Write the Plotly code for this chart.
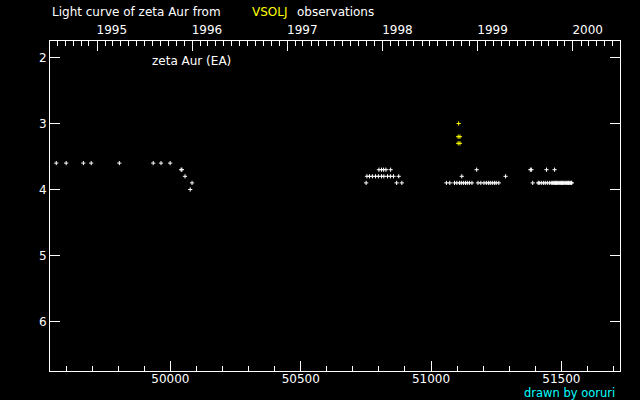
import datetime as dt
import plotly.graph_objects as go

# Reduced Julian Date (JD - 2400000) and visual magnitudes
jd_white = [
    49562, 49600, 49666, 49696, 49804, 49934, 49964, 49999,
    50041, 50044, 50056, 50083, 50076,
    50800, 50810, 50818, 50827, 50845,
    50754, 50764, 50775, 50787, 50798, 50810, 50819, 50833, 50844, 50856, 50876,
    50751, 50868, 50888,
    51059, 51072, 51090, 51099, 51109, 51116, 51124, 51132, 51139, 51147, 51157,
    51180, 51191, 51203, 51212, 51220, 51227, 51235, 51243, 51250, 51260,
    51118, 51286, 51175,
    51381, 51385, 51443, 51474,
    51390, 51411, 51415, 51423, 51431, 51438, 51446, 51454, 51461, 51465, 51469,
    51473, 51477, 51481, 51484, 51488, 51492, 51496, 51500, 51504, 51507, 51511,
    51515, 51519, 51523, 51527, 51530, 51534, 51538, 51540,
]
mag_white = [
    3.6, 3.6, 3.6, 3.6, 3.6, 3.6, 3.6, 3.6,
    3.7, 3.7, 3.8, 3.9, 4.0,
    3.7, 3.7, 3.7, 3.7, 3.7,
    3.8, 3.8, 3.8, 3.8, 3.8, 3.8, 3.8, 3.8, 3.8, 3.8, 3.8,
    3.9, 3.9, 3.9,
    3.9, 3.9, 3.9, 3.9, 3.9, 3.9, 3.9, 3.9, 3.9, 3.9, 3.9,
    3.9, 3.9, 3.9, 3.9, 3.9, 3.9, 3.9, 3.9, 3.9, 3.9,
    3.8, 3.8, 3.7,
    3.7, 3.7, 3.7, 3.7,
    3.9, 3.9, 3.9, 3.9, 3.9, 3.9, 3.9, 3.9, 3.9, 3.9, 3.9,
    3.9, 3.9, 3.9, 3.9, 3.9, 3.9, 3.9, 3.9, 3.9, 3.9, 3.9,
    3.9, 3.9, 3.9, 3.9, 3.9, 3.9, 3.9, 3.9,
]
jd_yellow = [51106, 51104, 51111, 51104, 51111]
mag_yellow = [3.0, 3.2, 3.2, 3.3, 3.3]

jd_range = [49538, 51725]
mag_range = [6.75, 1.75]
mag_ticks = [2, 3, 4, 5, 6]

FONT = "DejaVu Sans"
WHITE = "#ffffff"


def jd_to_date(v):
    return dt.datetime(1858, 11, 16, 12) + dt.timedelta(days=v)


fig = go.Figure()
marker_common = dict(symbol="cross-thin", size=3)
fig.add_trace(go.Scatter(
    x=jd_white, y=mag_white, mode="markers",
    marker=dict(**marker_common, color=WHITE, line=dict(color=WHITE, width=1)),
    showlegend=False, hoverinfo="x+y",
))
fig.add_trace(go.Scatter(
    x=jd_yellow, y=mag_yellow, mode="markers",
    marker=dict(**marker_common, color="#ffff00", line=dict(color="#ffff00", width=1)),
    showlegend=False, hoverinfo="x+y",
))
# invisible trace to activate top date axis
fig.add_trace(go.Scatter(
    x=[jd_to_date(jd_range[0])], y=[mag_range[0]], xaxis="x2", mode="markers",
    marker=dict(opacity=0), showlegend=False, hoverinfo="skip",
))

fig.update_layout(
    width=640, height=400,
    paper_bgcolor="black", plot_bgcolor="black",
    margin=dict(l=50, r=20, t=41, b=29),
    font=dict(family=FONT, size=12, color=WHITE),
    xaxis=dict(
        range=jd_range, showgrid=False, zeroline=False, automargin=False,
        showline=True, linecolor=WHITE, linewidth=1, mirror=True,
        ticks="inside", ticklen=10, tickcolor=WHITE, tickwidth=1,
        tick0=50000, dtick=500, tickformat="d",
        ticklabelstandoff=-3,
        tickfont=dict(family=FONT, size=12, color=WHITE),
        minor=dict(dtick=100, tick0=50000, ticks="inside", ticklen=5,
                   tickcolor=WHITE, tickwidth=1, showgrid=False),
    ),
    xaxis2=dict(
        type="date", overlaying="x", side="top", automargin=False,
        range=[jd_to_date(jd_range[0]), jd_to_date(jd_range[1])],
        showgrid=False, zeroline=False, showline=False,
        ticks="inside", ticklen=10, tickcolor=WHITE, tickwidth=1,
        tick0="1995-01-01", dtick="M12", tickformat="%Y",
        ticklabelposition="outside right",
        ticklabelstandoff=4, ticklabelshift=-1,
        tickfont=dict(family=FONT, size=12, color=WHITE),
        minor=dict(dtick="M1", tick0="1995-01-01", ticks="inside", ticklen=5,
                   tickcolor=WHITE, tickwidth=1, showgrid=False),
    ),
    yaxis=dict(
        range=mag_range, showgrid=False, zeroline=False, automargin=False,
        showline=True, linecolor=WHITE, linewidth=1, mirror="ticks",
        ticks="inside", ticklen=10, tickcolor=WHITE, tickwidth=1,
        tickvals=mag_ticks,
        tickfont=dict(family=FONT, size=12, color=WHITE),
    ),
    annotations=[
        dict(text="Light curve of zeta Aur from", xref="paper", yref="paper",
             x=0, y=1.088, xanchor="left", yanchor="middle", showarrow=False,
             font=dict(family=FONT, size=12, color=WHITE)),
        dict(text="VSOLJ", xref="paper", yref="paper",
             x=0.350, y=1.088, xanchor="left", yanchor="middle", showarrow=False,
             font=dict(family=FONT, size=12, color="#ffff00")),
        dict(text="observations", xref="paper", yref="paper",
             x=0.429, y=1.088, xanchor="left", yanchor="middle", showarrow=False,
             font=dict(family=FONT, size=12, color=WHITE)),
        dict(text="zeta Aur (EA)", xref="paper", yref="paper",
             x=0.175, y=0.939, xanchor="left", yanchor="middle", showarrow=False,
             font=dict(family=FONT, size=12, color=WHITE)),
        dict(text="drawn by ooruri", xref="paper", yref="paper",
             x=0.9946, y=-0.067, xanchor="right", yanchor="middle", showarrow=False,
             font=dict(family=FONT, size=11.5, color="#00ffff")),
    ],
)

fig.write_html(
    "out.html",
    config={"displayModeBar": False},
    post_script="document.body.style.margin='0';document.body.style.background='black';",
)
